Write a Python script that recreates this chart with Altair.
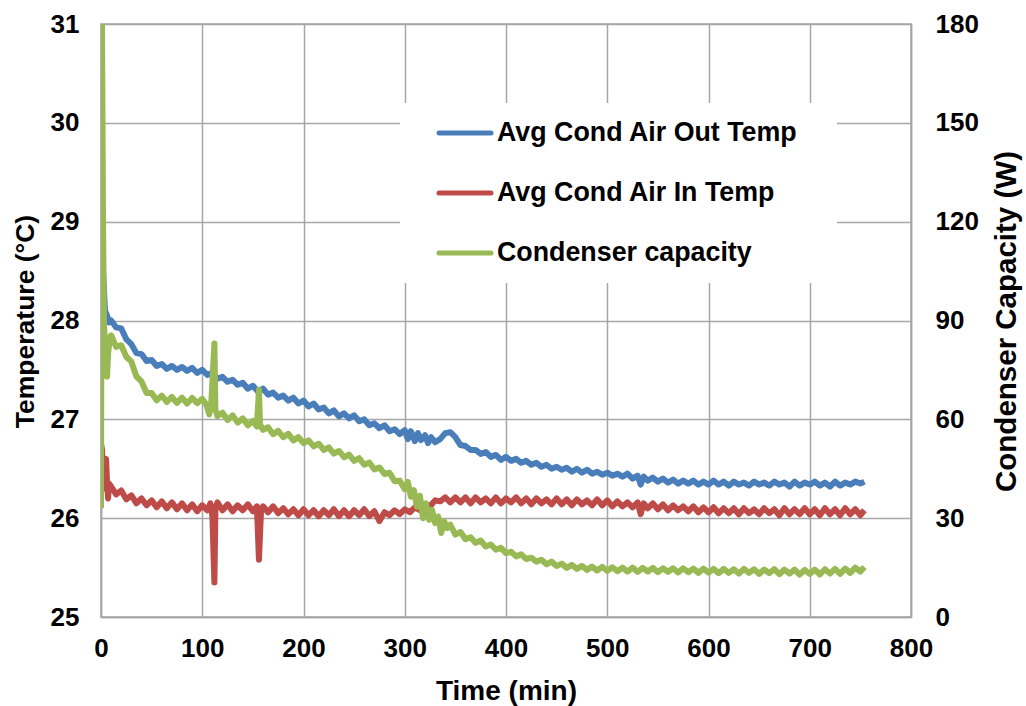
import altair as alt
import pandas as pd

# ---------------- data ----------------
out_time = [0, 1, 2, 4, 6, 8, 10, 15, 20, 25, 30, 35, 40, 45, 50, 55, 60, 65, 70, 75, 80, 85, 90, 95,
            100, 105, 110, 115, 120, 125, 130, 135, 140, 145, 150, 155, 160, 165, 170, 175, 180, 185,
            190, 195, 200, 205, 210, 215, 220, 225, 230, 235, 240, 245, 250, 255, 260, 265, 270, 275,
            280, 285, 290, 295, 300, 303, 306, 310, 313, 316, 320, 323, 326, 330, 335, 340, 345, 350,
            355, 360, 365, 370, 375, 380, 385, 390, 395, 400, 405, 410, 415, 420, 425, 430, 435, 440,
            445, 450, 455, 460, 465, 470, 475, 480, 485, 490, 495, 500, 505, 510, 515, 520, 525, 530,
            533, 536, 540, 545, 550, 555, 560, 565, 570, 575, 580, 585, 590, 595, 600, 605, 610, 615,
            620, 625, 630, 635, 640, 645, 650, 655, 660, 665, 670, 675, 680, 685, 690, 695, 700, 705,
            710, 715, 720, 725, 730, 735, 740, 745, 750, 754]
out_temp = [28.2, 29.2, 28.5, 28.1, 28.05, 27.98, 28.00, 27.93, 27.92, 27.81, 27.76, 27.67, 27.66, 27.59,
            27.60, 27.54, 27.56, 27.51, 27.54, 27.50, 27.53, 27.49, 27.52, 27.47, 27.50, 27.45, 27.47,
            27.41, 27.43, 27.38, 27.40, 27.35, 27.37, 27.31, 27.34, 27.28, 27.31, 27.25, 27.27, 27.22,
            27.24, 27.19, 27.22, 27.16, 27.19, 27.13, 27.16, 27.10, 27.12, 27.06, 27.09, 27.03, 27.06,
            27.01, 27.04, 26.98, 27.00, 26.94, 26.96, 26.91, 26.94, 26.88, 26.90, 26.85, 26.89, 26.80,
            26.88, 26.78, 26.86, 26.79, 26.84, 26.76, 26.82, 26.77, 26.80, 26.86, 26.87, 26.82, 26.74,
            26.73, 26.69, 26.69, 26.65, 26.67, 26.62, 26.64, 26.59, 26.62, 26.58, 26.60, 26.56, 26.58,
            26.54, 26.56, 26.52, 26.54, 26.50, 26.52, 26.49, 26.51, 26.47, 26.50, 26.46, 26.49, 26.45,
            26.47, 26.44, 26.46, 26.43, 26.45, 26.42, 26.45, 26.40, 26.43, 26.34, 26.42, 26.38, 26.41,
            26.37, 26.40, 26.36, 26.39, 26.35, 26.38, 26.35, 26.38, 26.34, 26.37, 26.34, 26.38, 26.34,
            26.37, 26.33, 26.37, 26.34, 26.36, 26.33, 26.37, 26.34, 26.36, 26.33, 26.37, 26.34, 26.36,
            26.32, 26.37, 26.33, 26.36, 26.34, 26.37, 26.33, 26.36, 26.32, 26.37, 26.33, 26.36, 26.34,
            26.37, 26.35, 26.37]

in_time = [0, 1, 2, 3, 4, 5, 6, 7, 8, 10, 15, 20, 25, 30, 35, 40, 45, 50, 55, 60, 65, 70, 75, 80, 85,
           90, 95, 100, 105, 108, 110, 112, 113, 115, 120, 125, 130, 135, 140, 145, 150, 154, 156, 158,
           160, 165, 170, 175, 180, 185, 190, 195, 200, 205, 210, 215, 220, 225, 230, 235, 240, 245,
           250, 255, 260, 265, 270, 275, 280, 285, 290, 295, 300, 305, 310, 315, 320, 325, 330, 335,
           340, 345, 350, 355, 360, 365, 370, 375, 380, 385, 390, 395, 400, 405, 410, 415, 420, 425,
           430, 435, 440, 445, 450, 455, 460, 465, 470, 475, 480, 485, 490, 495, 500, 505, 510, 515,
           520, 525, 530, 533, 536, 540, 545, 550, 555, 560, 565, 570, 575, 580, 585, 590, 595, 600,
           605, 610, 615, 620, 625, 630, 635, 640, 645, 650, 655, 660, 665, 670, 675, 680, 685, 690,
           695, 700, 705, 710, 715, 720, 725, 730, 735, 740, 745, 750, 754]
in_temp = [26.75, 26.70, 26.40, 26.30, 26.55, 26.60, 26.35, 26.20, 26.35, 26.32, 26.24, 26.28, 26.19,
           26.23, 26.15, 26.20, 26.13, 26.18, 26.11, 26.17, 26.10, 26.16, 26.09, 26.15, 26.08, 26.14,
           26.07, 26.13, 26.08, 26.15, 26.02, 25.35, 26.10, 26.16, 26.08, 26.14, 26.07, 26.13, 26.08,
           26.14, 26.07, 26.12, 25.58, 26.06, 26.12, 26.06, 26.12, 26.05, 26.10, 26.04, 26.09, 26.03,
           26.09, 26.03, 26.08, 26.02, 26.08, 26.03, 26.09, 26.02, 26.08, 26.02, 26.08, 26.03, 26.09,
           26.02, 26.07, 25.97, 26.06, 26.03, 26.08, 26.04, 26.09, 26.06, 26.11, 26.08, 26.14, 26.12,
           26.18, 26.17, 26.21, 26.16, 26.21, 26.16, 26.21, 26.15, 26.21, 26.16, 26.20, 26.15, 26.21,
           26.15, 26.20, 26.16, 26.21, 26.15, 26.20, 26.14, 26.20, 26.15, 26.19, 26.14, 26.20, 26.14,
           26.19, 26.13, 26.19, 26.14, 26.18, 26.13, 26.19, 26.13, 26.18, 26.12, 26.17, 26.12, 26.16,
           26.11, 26.16, 26.04, 26.15, 26.10, 26.15, 26.09, 26.14, 26.08, 26.13, 26.08, 26.12, 26.07,
           26.12, 26.06, 26.11, 26.06, 26.11, 26.05, 26.10, 26.05, 26.10, 26.04, 26.10, 26.05, 26.09,
           26.04, 26.10, 26.05, 26.09, 26.03, 26.10, 26.04, 26.09, 26.04, 26.10, 26.04, 26.09, 26.03,
           26.10, 26.04, 26.09, 26.03, 26.10, 26.04, 26.09, 26.03, 26.08]

cap_time = [0, 1, 2, 3, 5, 6, 7, 9, 10, 15, 20, 25, 30, 35, 40, 45, 50, 55, 60, 65, 70, 75, 80, 85, 90,
            95, 100, 104, 107, 109, 112, 113, 115, 120, 125, 130, 135, 140, 145, 150, 154, 156, 157,
            160, 165, 170, 175, 180, 185, 190, 195, 200, 205, 210, 215, 220, 225, 230, 235, 240, 245,
            250, 255, 260, 265, 270, 275, 280, 285, 290, 295, 300, 303, 306, 309, 312, 315, 318, 321,
            324, 327, 330, 333, 336, 339, 342, 345, 350, 355, 360, 365, 370, 375, 380, 385, 390, 395,
            400, 405, 410, 415, 420, 425, 430, 435, 440, 445, 450, 455, 460, 465, 470, 475, 480, 485,
            490, 495, 500, 505, 510, 515, 520, 525, 530, 535, 540, 545, 550, 555, 560, 565, 570, 575,
            580, 585, 590, 595, 600, 605, 610, 615, 620, 625, 630, 635, 640, 645, 650, 655, 660, 665,
            670, 675, 680, 685, 690, 695, 700, 705, 710, 715, 720, 725, 730, 735, 740, 745, 750, 754]
cap_watt = [33.0, 180.0, 120.0, 88.0, 80.0, 73.0, 80.0, 85.0, 85.5, 82.0, 82.5, 79.0, 77.5, 73.0, 71.5,
            68.0, 68.0, 65.8, 67.2, 65.3, 66.8, 65.0, 66.6, 64.8, 66.5, 64.9, 66.2, 64.5, 61.5, 65.5,
            83.0, 63.0, 61.0, 62.0, 59.8, 61.2, 59.0, 60.3, 58.2, 59.5, 57.8, 69.0, 58.5, 56.8, 57.6,
            55.5, 56.5, 54.6, 55.6, 53.6, 54.6, 52.8, 53.6, 51.8, 52.6, 50.7, 51.5, 49.6, 50.4, 48.5,
            49.3, 47.4, 48.2, 46.2, 46.9, 44.8, 45.4, 43.4, 43.8, 41.2, 41.4, 38.8, 41.0, 36.5, 38.5,
            33.5, 36.8, 30.0, 34.5, 29.5, 32.5, 28.5, 30.5, 25.5, 29.0, 27.0, 28.0, 25.0, 25.8, 23.6,
            24.2, 22.5, 23.2, 21.4, 22.0, 20.4, 21.0, 19.4, 19.8, 18.4, 19.0, 17.6, 18.0, 16.8, 17.4,
            16.0, 16.8, 15.5, 16.2, 14.9, 15.8, 14.6, 15.5, 14.3, 15.3, 14.1, 15.2, 14.0, 15.1, 13.9,
            15.0, 13.8, 15.0, 13.7, 14.9, 13.8, 14.9, 13.6, 14.8, 13.7, 14.8, 13.5, 14.8, 13.6, 14.7,
            13.4, 14.7, 13.5, 14.6, 13.3, 14.6, 13.4, 14.5, 13.2, 14.6, 13.4, 14.5, 13.1, 14.4, 13.3,
            14.5, 13.0, 14.4, 13.2, 14.4, 12.9, 14.3, 13.1, 14.4, 12.9, 14.5, 13.2, 14.6, 13.1, 14.7,
            13.4, 15.0, 13.8, 15.2]

series_names = ["Avg Cond Air Out Temp", "Avg Cond Air In Temp", "Condenser capacity"]
series_colors = ["#4A7EBB", "#BE4B48", "#98B954"]
x_ticks = [0, 100, 200, 300, 400, 500, 600, 700, 800]
temp_ticks = [25, 26, 27, 28, 29, 30, 31]
cap_ticks = [0, 30, 60, 90, 120, 150, 180]

# ---------------- frames ----------------
temp_df = pd.concat([
    pd.DataFrame({"time": out_time, "temp": out_temp, "series": series_names[0]}),
    pd.DataFrame({"time": in_time, "temp": in_temp, "series": series_names[1]}),
], ignore_index=True)
cap_df = pd.DataFrame({"time": cap_time, "cap": cap_watt})

FONT = "Liberation Sans"
GRID = "#A6A6A6"
LW = 6

x_enc = alt.X(
    "time:Q",
    scale=alt.Scale(domain=[0, 800], nice=False),
    axis=alt.Axis(values=x_ticks, title="Time (min)", grid=True, ticks=False, tickSize=0,
                  labelFlush=False, labelPadding=18, titlePadding=16, labelFontSize=26,
                  titleFontSize=28, labelFontWeight="bold", titleFontWeight="bold"),
)

temp_chart = alt.Chart(temp_df).mark_line(strokeWidth=LW, strokeJoin="round", clip=True).encode(
    x=x_enc,
    y=alt.Y(
        "temp:Q",
        scale=alt.Scale(domain=[25, 31], nice=False, zero=False),
        axis=alt.Axis(values=temp_ticks, title="Temperature (°C)", grid=True, ticks=False, tickSize=0,
                      labelFlush=False, labelPadding=22, labelFontSize=26, titleFontSize=26.5,
                      labelFontWeight="bold", titleFontWeight="bold",
                      titleAngle=270, titleX=-76, titleY=297, titleAlign="center",
                      titleBaseline="middle"),
    ),
    color=alt.Color("series:N", scale=alt.Scale(domain=series_names[:2], range=series_colors[:2]),
                    legend=None),
    detail="series:N",
)

cap_chart = alt.Chart(cap_df).mark_line(strokeWidth=LW, strokeJoin="round", color=series_colors[2],
                                        clip=True).encode(
    x=x_enc,
    y=alt.Y(
        "cap:Q",
        scale=alt.Scale(domain=[0, 180], nice=False),
        axis=alt.Axis(orient="right", values=cap_ticks, title="Condenser Capacity (W)", grid=False,
                      ticks=False, tickSize=0, labelFlush=False, labelPadding=24, labelFontSize=26,
                      titleFontSize=29.5, labelFontWeight="bold", titleFontWeight="bold",
                      titleAngle=270, titleX=95, titleY=297, titleAlign="center",
                      titleBaseline="middle"),
    ),
)

legend_bg = alt.Chart(pd.DataFrame({"k": [0]})).mark_rect(fill="white").encode(
    x=alt.value(299), x2=alt.value(736), y=alt.value(79), y2=alt.value(259)
)

legend_rows = []
row_y = [109, 169, 229]
for name, col, yy in zip(series_names, series_colors, row_y):
    d = pd.DataFrame({"label": [name]})
    legend_rows.append(
        alt.Chart(d).mark_rule(color=col, strokeWidth=5, strokeCap="round").encode(
            x=alt.value(338), x2=alt.value(390), y=alt.value(yy)
        )
    )
    legend_rows.append(
        alt.Chart(d).mark_text(align="left", baseline="middle", font=FONT, fontSize=26.8,
                               fontWeight="bold", color="black").encode(
            x=alt.value(396), y=alt.value(yy), text="label:N"
        )
    )

chart = alt.layer(temp_chart, cap_chart, legend_bg, *legend_rows).resolve_scale(
    y="independent"
).properties(
    width=810, height=593,
    autosize=alt.AutoSizeParams(type="none"),
    padding={"left": 101, "top": 24, "right": 115, "bottom": 89},
    background="white",
).configure_view(
    stroke=GRID, strokeWidth=1.5
).configure_axis(
    gridColor=GRID, gridWidth=1.5, domainColor=GRID, domainWidth=1.5,
    labelFont=FONT, titleFont=FONT, labelColor="black", titleColor="black",
)

chart.save("out.html", embed_options={"renderer": "svg", "actions": False})
